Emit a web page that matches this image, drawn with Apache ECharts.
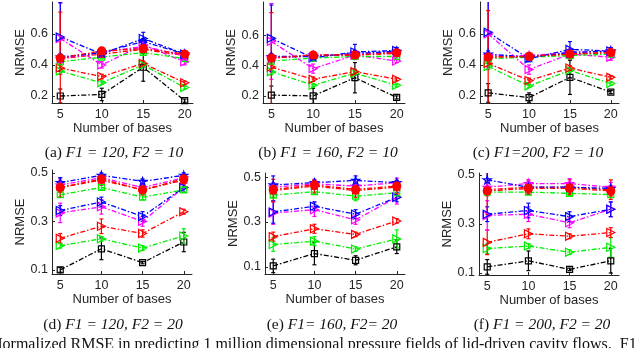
<!DOCTYPE html>
<html>
<head>
<meta charset="utf-8">
<script src="https://cdn.jsdelivr.net/npm/echarts@6/dist/echarts.min.js"></script>
<style>
  html, body { margin: 0; padding: 0; background: #fff; }
  #chart { width: 640px; height: 348px; }
</style>
</head>
<body>
<div id="chart"></div>
<script>
// number of bases on x
const bases = [5, 10, 15, 20];
const yTicksTop = [0.2, 0.4, 0.6];
const yTicksBottom = [0.1, 0.3, 0.5];

// series order: black sq, green tri, red tri, magenta tri, blue tri,
// green sq, red sq, magenta star, blue star, red dot
const seriesNames = ['k-sq', 'g-tri', 'r-tri', 'm-tri', 'b-tri', 'g-sq', 'r-sq', 'm-star', 'b-star', 'r-dot'];

const panelTags = ['(a) ', '(b) ', '(c) ', '(d) ', '(e) ', '(f) '];
const panelTitles = ['F1 = 120, F2 = 10', 'F1 = 160, F2 = 10', 'F1=200, F2 = 10',
                     'F1 = 120, F2 = 20', 'F1= 160, F2= 20', 'F1 = 200, F2 = 20'];
const footText = 'Normalized RMSE in predicting 1 million dimensional pressure fields of lid-driven cavity flows.  F1';

const valsA = [
  [0.20, 0.21, 0.385, 0.17],
  [0.36, 0.285, 0.40, 0.255],
  [0.38, 0.325, 0.41, 0.285],
  [0.57, 0.40, 0.53, 0.42],
  [0.58, 0.47, 0.57, 0.47],
  [0.42, 0.45, 0.48, 0.44],
  [0.44, 0.47, 0.50, 0.46],
  [0.44, 0.48, 0.52, 0.46],
  [0.45, 0.48, 0.55, 0.47],
  [0.445, 0.49, 0.505, 0.47]
];
const errA = [
  [0.045, 0.04, 0.09, 0.01],
  [0.02, 0.01, 0.01, 0.01],
  [0.02, 0.015, 0.015, 0.01],
  [0.23, 0.02, 0.02, 0.02],
  [0.22, 0.02, 0.04, 0.02],
  [0.01, 0.01, 0.01, 0.01],
  [0.30, 0.02, 0.02, 0.02],
  [0.02, 0.01, 0.02, 0.01],
  [0.02, 0.01, 0.02, 0.02],
  [0.02, 0.02, 0.02, 0.02]
];

const valsB = [
  [0.205, 0.20, 0.32, 0.19],
  [0.36, 0.27, 0.35, 0.27],
  [0.39, 0.31, 0.36, 0.31],
  [0.56, 0.38, 0.47, 0.43],
  [0.58, 0.45, 0.49, 0.50],
  [0.43, 0.45, 0.46, 0.46],
  [0.45, 0.465, 0.47, 0.48],
  [0.45, 0.47, 0.475, 0.49],
  [0.46, 0.46, 0.48, 0.495],
  [0.45, 0.47, 0.47, 0.485]
];
const errB = [
  [0.06, 0.05, 0.10, 0.01],
  [0.02, 0.01, 0.01, 0.01],
  [0.02, 0.015, 0.015, 0.01],
  [0.25, 0.03, 0.02, 0.01],
  [0.22, 0.02, 0.05, 0.02],
  [0.01, 0.01, 0.01, 0.01],
  [0.30, 0.02, 0.02, 0.02],
  [0.02, 0.01, 0.02, 0.01],
  [0.02, 0.01, 0.02, 0.02],
  [0.02, 0.02, 0.02, 0.02]
];

const valsC = [
  [0.22, 0.19, 0.32, 0.225],
  [0.39, 0.265, 0.365, 0.28],
  [0.41, 0.30, 0.38, 0.32],
  [0.60, 0.37, 0.47, 0.45],
  [0.61, 0.44, 0.50, 0.49],
  [0.44, 0.45, 0.46, 0.47],
  [0.45, 0.455, 0.47, 0.48],
  [0.46, 0.46, 0.48, 0.49],
  [0.47, 0.45, 0.48, 0.49],
  [0.45, 0.455, 0.47, 0.48]
];
const errC = [
  [0.06, 0.03, 0.11, 0.01],
  [0.02, 0.01, 0.01, 0.01],
  [0.02, 0.015, 0.015, 0.01],
  [0.22, 0.03, 0.03, 0.02],
  [0.20, 0.02, 0.05, 0.02],
  [0.01, 0.01, 0.01, 0.01],
  [0.30, 0.02, 0.03, 0.02],
  [0.02, 0.01, 0.02, 0.01],
  [0.02, 0.01, 0.02, 0.02],
  [0.02, 0.02, 0.02, 0.02]
];

const valsD = [
  [0.10, 0.187, 0.13, 0.215],
  [0.20, 0.228, 0.19, 0.24],
  [0.23, 0.28, 0.25, 0.34],
  [0.335, 0.36, 0.30, 0.44],
  [0.345, 0.38, 0.32, 0.44],
  [0.41, 0.44, 0.40, 0.43],
  [0.44, 0.47, 0.43, 0.47],
  [0.45, 0.48, 0.44, 0.48],
  [0.46, 0.49, 0.465, 0.49],
  [0.44, 0.475, 0.43, 0.475]
];
const errD = [
  [0.01, 0.045, 0.005, 0.04],
  [0.01, 0.01, 0.01, 0.03],
  [0.02, 0.03, 0.015, 0.01],
  [0.04, 0.03, 0.02, 0.02],
  [0.02, 0.02, 0.02, 0.02],
  [0.01, 0.01, 0.01, 0.01],
  [0.04, 0.02, 0.02, 0.02],
  [0.02, 0.01, 0.02, 0.01],
  [0.02, 0.01, 0.01, 0.01],
  [0.02, 0.01, 0.02, 0.02]
];

const valsE = [
  [0.105, 0.16, 0.13, 0.19],
  [0.20, 0.215, 0.18, 0.225],
  [0.235, 0.27, 0.245, 0.305],
  [0.34, 0.355, 0.31, 0.41],
  [0.345, 0.37, 0.335, 0.41],
  [0.42, 0.435, 0.415, 0.43],
  [0.44, 0.46, 0.44, 0.455],
  [0.455, 0.47, 0.46, 0.475],
  [0.465, 0.475, 0.485, 0.475],
  [0.445, 0.465, 0.445, 0.46]
];
const errE = [
  [0.03, 0.05, 0.02, 0.03],
  [0.03, 0.02, 0.01, 0.04],
  [0.02, 0.02, 0.01, 0.01],
  [0.05, 0.03, 0.02, 0.03],
  [0.05, 0.02, 0.02, 0.02],
  [0.01, 0.01, 0.02, 0.01],
  [0.05, 0.03, 0.03, 0.03],
  [0.02, 0.01, 0.02, 0.02],
  [0.04, 0.01, 0.02, 0.01],
  [0.02, 0.02, 0.02, 0.02]
];

const valsF = [
  [0.125, 0.15, 0.115, 0.15],
  [0.20, 0.21, 0.185, 0.205],
  [0.225, 0.26, 0.25, 0.265],
  [0.335, 0.34, 0.305, 0.36],
  [0.34, 0.355, 0.33, 0.36],
  [0.43, 0.43, 0.425, 0.42],
  [0.44, 0.45, 0.45, 0.44],
  [0.45, 0.465, 0.465, 0.45],
  [0.48, 0.45, 0.45, 0.445],
  [0.435, 0.445, 0.445, 0.435]
];
const errF = [
  [0.03, 0.04, 0.005, 0.05],
  [0.02, 0.01, 0.01, 0.04],
  [0.05, 0.02, 0.01, 0.02],
  [0.06, 0.03, 0.02, 0.03],
  [0.03, 0.03, 0.02, 0.03],
  [0.01, 0.01, 0.01, 0.01],
  [0.10, 0.03, 0.03, 0.04],
  [0.02, 0.01, 0.02, 0.02],
  [0.03, 0.01, 0.01, 0.01],
  [0.02, 0.02, 0.02, 0.02]
];

const panelVals = [valsA, valsB, valsC, valsD, valsE, valsF];
const panelErrs = [errA, errB, errC, errD, errE, errF];

const grids = [
  { left: 52, top: 2, width: 141, height: 101 },
  { left: 263, top: 2, width: 142, height: 101 },
  { left: 480, top: 2, width: 139, height: 101 },
  { left: 52, top: 170, width: 140, height: 104 },
  { left: 265, top: 173, width: 140, height: 101 },
  { left: 479, top: 173, width: 140, height: 102 }
];
const yRanges = [[0.155, 0.805], [0.153, 0.82], [0.155, 0.805], [0.083, 0.512], [0.069, 0.518], [0.092, 0.508]];
const captionPos = [[114, 153], [328, 153], [538, 153], [113, 325], [332, 325], [542, 325]];

const triRight = 'path://M0,0 L10,5 L0,10 Z';
const star = 'path://M5,0 L6.2,3.8 L10,3.8 L6.9,6.1 L8.1,10 L5,7.6 L1.9,10 L3.1,6.1 L0,3.8 L3.8,3.8 Z';
const styles = [
  { color: '#000000', symbol: 'rect', fill: false },
  { color: '#00ee00', symbol: triRight, fill: false },
  { color: '#ff0000', symbol: triRight, fill: false },
  { color: '#ff00ff', symbol: triRight, fill: false },
  { color: '#0000ff', symbol: triRight, fill: false },
  { color: '#00ee00', symbol: 'rect', fill: false },
  { color: '#ff0000', symbol: 'rect', fill: false },
  { color: '#ff00ff', symbol: star, fill: false },
  { color: '#0000ff', symbol: star, fill: false },
  { color: '#ff0000', symbol: 'circle', fill: true }
];
const dashDot = [5, 2, 1.5, 2];

const axisColor = '#262626';

const renderErr = (params, api) => {
  const x = api.value(0);
  const p1 = api.coord([x, api.value(1)]);
  const p2 = api.coord([x, api.value(2)]);
  const cap = 2;
  const style = { stroke: api.visual('color'), lineWidth: 1.2 };
  return {
    type: 'group',
    children: [
      { type: 'line', shape: { x1: p1[0], y1: p1[1], x2: p2[0], y2: p2[1] }, style: style },
      { type: 'line', shape: { x1: p1[0] - cap, y1: p1[1], x2: p1[0] + cap, y2: p1[1] }, style: style },
      { type: 'line', shape: { x1: p2[0] - cap, y1: p2[1], x2: p2[0] + cap, y2: p2[1] }, style: style }
    ]
  };
};

const xAxes = grids.map((g, i) => ({
  type: 'value',
  gridIndex: i,
  min: 4,
  max: 21,
  name: 'Number of bases',
  nameLocation: 'middle',
  nameGap: 19,
  nameTextStyle: { color: axisColor, fontSize: 13, fontFamily: 'Liberation Sans' },
  axisLine: { lineStyle: { color: axisColor, width: 1 } },
  axisTick: { inside: true, length: 3, customValues: bases, lineStyle: { color: axisColor } },
  axisLabel: { customValues: bases, color: axisColor, fontSize: 12.5, fontFamily: 'Liberation Sans', margin: 5 },
  splitLine: { show: false }
}));

const yAxes = grids.map((g, i) => {
  const ticks = i < 3 ? yTicksTop : yTicksBottom;
  return {
    type: 'value',
    gridIndex: i,
    min: yRanges[i][0],
    max: yRanges[i][1],
    name: 'NRMSE',
    nameLocation: 'middle',
    nameRotate: 90,
    nameGap: 24,
    nameTextStyle: { color: axisColor, fontSize: 13, fontFamily: 'Liberation Sans' },
    axisLine: { show: true, lineStyle: { color: axisColor, width: 1 } },
    axisTick: { show: true, inside: true, length: 3, customValues: ticks, lineStyle: { color: axisColor } },
    axisLabel: { customValues: ticks, color: axisColor, fontSize: 12.5, fontFamily: 'Liberation Sans', margin: 4,
                 formatter: (v) => v.toFixed(1) },
    splitLine: { show: false }
  };
});

const series = [];
panelVals.forEach((vals, p) => {
  vals.forEach((row, s) => {
    const st = styles[s];
    const errs = panelErrs[p][s];
    series.push({
      type: 'custom',
      name: seriesNames[s] + '-err',
      xAxisIndex: p,
      yAxisIndex: p,
      clip: true,
      silent: true,
      itemStyle: { color: st.color },
      encode: { x: 0, y: [1, 2] },
      renderItem: renderErr,
      data: row.map((v, k) => [bases[k], v - errs[k], v + errs[k]]),
      z: 2
    });
    series.push({
      type: 'line',
      name: seriesNames[s],
      xAxisIndex: p,
      yAxisIndex: p,
      data: row.map((v, k) => [bases[k], v]),
      symbol: st.symbol,
      symbolSize: s === 0 || s === 5 || s === 6 ? 6 : 8,
      showSymbol: true,
      clip: true,
      silent: true,
      lineStyle: { color: st.color, width: 1.3, type: dashDot },
      itemStyle: { color: st.fill ? st.color : 'rgba(255,255,255,0)', borderColor: st.color, borderWidth: 1.2 },
      z: 3
    });
  });
});

const graphics = panelTitles.map((t, i) => ({
  type: 'text',
  x: captionPos[i][0],
  y: captionPos[i][1],
  style: {
    text: '{n|' + panelTags[i] + '}{i|' + t + '}',
    align: 'center',
    verticalAlign: 'middle',
    rich: {
      n: { fontFamily: 'Liberation Serif', fontSize: 15.5, fill: '#111' },
      i: { fontFamily: 'Liberation Serif', fontSize: 15.5, fontStyle: 'italic', fill: '#111' }
    }
  }
}));
graphics.push({
  type: 'text',
  x: -9,
  y: 345,
  style: {
    text: footText,
    fontFamily: 'Liberation Serif',
    fontSize: 16,
    fill: '#111',
    align: 'left',
    verticalAlign: 'middle'
  }
});

const chart = echarts.init(document.getElementById('chart'));
chart.setOption({
  animation: false,
  backgroundColor: '#fff',
  grid: grids,
  xAxis: xAxes,
  yAxis: yAxes,
  series: series,
  graphic: graphics
});
</script>
</body>
</html>
